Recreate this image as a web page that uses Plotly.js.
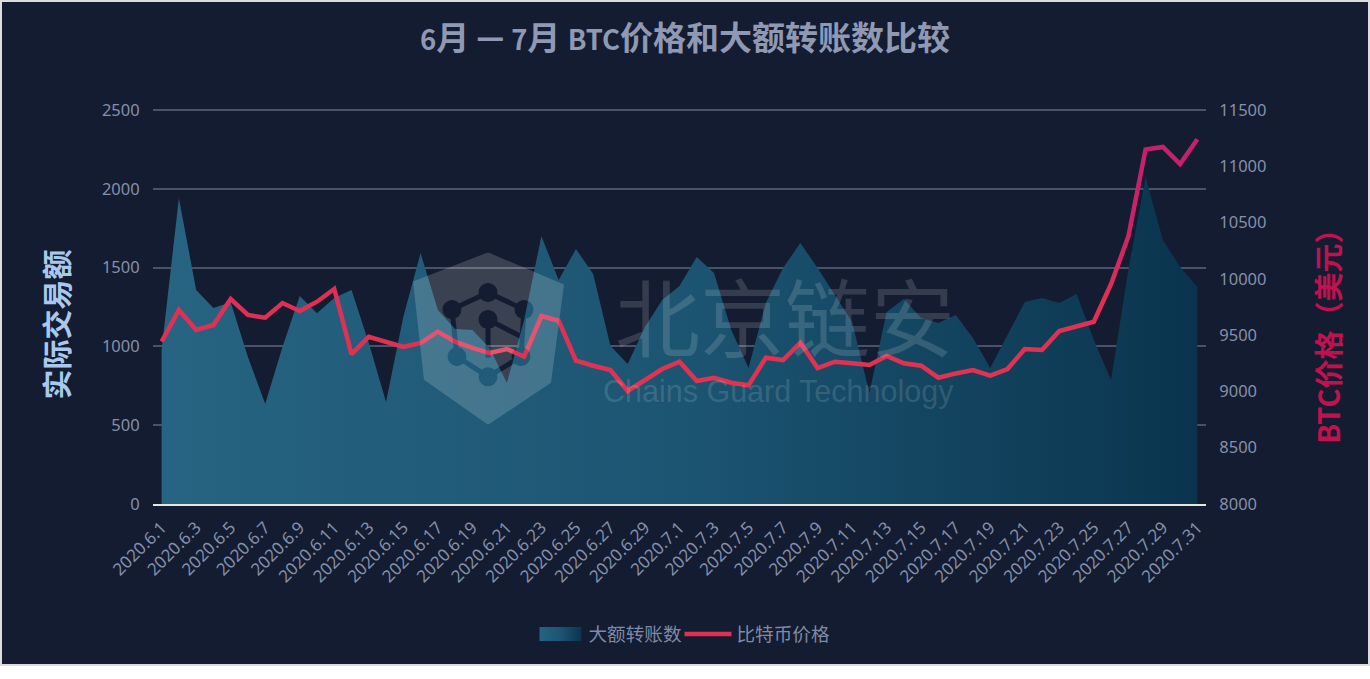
<!DOCTYPE html>
<html><head><meta charset="utf-8">
<script src="https://cdn.plot.ly/plotly-3.0.1.min.js"></script>
<style>
html,body{margin:0;padding:0;background:#fff;}
#wrap{position:relative;width:1370px;height:666px;}
#chart{position:absolute;left:0;top:0;width:1370px;height:666px;}
#frame{position:absolute;left:0;top:0;width:1370px;height:666px;box-sizing:border-box;border:2px solid #dcdcdc;pointer-events:none;}
</style></head><body>
<div id="wrap"><div id="chart"></div><div id="frame"></div></div>
<script>
const dates = ["2020.6.1","2020.6.2","2020.6.3","2020.6.4","2020.6.5","2020.6.6","2020.6.7","2020.6.8","2020.6.9","2020.6.10","2020.6.11","2020.6.12","2020.6.13","2020.6.14","2020.6.15","2020.6.16","2020.6.17","2020.6.18","2020.6.19","2020.6.20","2020.6.21","2020.6.22","2020.6.23","2020.6.24","2020.6.25","2020.6.26","2020.6.27","2020.6.28","2020.6.29","2020.6.30","2020.7.1","2020.7.2","2020.7.3","2020.7.4","2020.7.5","2020.7.6","2020.7.7","2020.7.8","2020.7.9","2020.7.10","2020.7.11","2020.7.12","2020.7.13","2020.7.14","2020.7.15","2020.7.16","2020.7.17","2020.7.18","2020.7.19","2020.7.20","2020.7.21","2020.7.22","2020.7.23","2020.7.24","2020.7.25","2020.7.26","2020.7.27","2020.7.28","2020.7.29","2020.7.30","2020.7.31"];
const transfers = [980,1940,1358,1243,1280,933,634,996,1320,1211,1307,1358,1021,647,1187,1592,1231,1110,1104,990,768,1167,1700,1421,1618,1459,1002,888,1123,1294,1383,1567,1466,1104,863,1275,1497,1656,1497,1326,1155,704,1218,1301,1180,1148,1199,1053,863,1072,1282,1307,1275,1332,1040,787,1485,2075,1675,1504,1377];
const btcPrice = [9442,9723,9546,9590,9821,9679,9655,9785,9714,9797,9910,9332,9486,9442,9395,9430,9531,9442,9386,9341,9377,9309,9670,9628,9273,9228,9190,9004,9101,9199,9264,9092,9122,9077,9054,9300,9279,9433,9208,9264,9250,9235,9315,9250,9228,9122,9160,9190,9140,9199,9377,9368,9537,9575,9619,9954,10375,11150,11172,11020,11240];

const PX = {l:153, r:1206, t:110, b:504};
const px2x = p => (p - PX.l) / (PX.r - PX.l);
const px2y = p => (PX.b - p) / (PX.b - PX.t);
const cjk = '"Noto Sans CJK SC","Noto Sans",sans-serif';
const tickFont = {family:'"Noto Sans","Noto Sans CJK SC",sans-serif', size:16.5, color:'#8590aa'};
const lat = t => '<span style="font-size:27.5px">'+t+'</span>';

const logoSvg = `<svg xmlns="http://www.w3.org/2000/svg" width="152" height="172" viewBox="0 0 152 172">
<mask id="m"><rect width="152" height="172" fill="white"/>
<g fill="black" stroke="black"><g fill="none" stroke-width="5"><path d="M39 57L75 40L111 57L108 104L75 124L44 104Z"/><path d="M75 67L110 85M75 67L75 105"/></g>
<circle cx="39" cy="57" r="9"/><circle cx="75" cy="40" r="9"/><circle cx="111" cy="57" r="9"/><circle cx="75" cy="67" r="9"/><circle cx="44" cy="104" r="9"/><circle cx="75" cy="124" r="9"/><circle cx="108" cy="104" r="9"/></g></mask>
<path d="M75 0L151 32L138 130L75 172L11 127L0 29Z" fill="white" fill-opacity="0.17" mask="url(#m)"/></svg>`;

const traces = [
 {name:'大额转账数', x:dates, y:transfers, type:'scatter', mode:'lines', yaxis:'y',
  line:{width:0,color:'#1f5f80'}, fill:'tozeroy',
  fillgradient:{type:'horizontal', colorscale:[[0,'#266482'],[0.5,'#1c5572'],[1,'#0a344e']]}},
 {name:'比特币价格', x:dates, y:btcPrice, type:'scatter', mode:'lines', yaxis:'y2',
  line:{width:4.5,color:'#e03052',shape:'linear'}}
];
const layout = {
 width:1370, height:666, autosize:false,
 paper_bgcolor:'#131c30', plot_bgcolor:'#131c30',
 margin:{l:PX.l, r:1370-PX.r, t:PX.t-1, b:666-PX.b, pad:0},
 font:{family:cjk},
 title:{text:'<b>'+lat('6')+'月 <span style="font-size:27px">一</span> '+lat('7')+'月 '+lat('BTC')+'价格和大额转账数比较</b>', font:{family:cjk,size:33,color:'#8f99b3'}, x:0.5, xanchor:'center', y:0.943, yanchor:'middle'},
 xaxis:{type:'category', range:[-0.5,60.5], dtick:2, tick0:0, tickangle:-45, tickfont:{...tickFont,size:17},
  showgrid:false, zeroline:false, showline:true, linecolor:'#e4e4e4', linewidth:2, ticks:'outside', ticklen:5, tickcolor:'rgba(0,0,0,0)'},
 yaxis:{range:[0,2506.4], tickvals:[0,500,1000,1500,2000,2500], tickfont:tickFont, gridcolor:'#4b5267', gridwidth:2, zeroline:false, showline:false,
  ticks:'outside', ticklen:9, tickcolor:'rgba(0,0,0,0)'},
 yaxis2:{range:[8000,11508.9], tickvals:[8000,8500,9000,9500,10000,10500,11000,11500], tickformat:'d', overlaying:'y', side:'right', showgrid:false, zeroline:false, showline:false, tickfont:tickFont,
  ticks:'outside', ticklen:9, tickcolor:'rgba(0,0,0,0)'},
 legend:{orientation:'h', x:0.5, xanchor:'center', y:px2y(634), yanchor:'middle', font:{family:cjk,size:18.6,color:'#7f8ba6'}, itemwidth:47, entrywidth:83, entrywidthmode:'pixels', tracegroupgap:0, bgcolor:'rgba(0,0,0,0)'},
 showlegend:true,
 images:[{source:'data:image/svg+xml;charset=utf-8,'+encodeURIComponent(logoSvg), xref:'paper', yref:'paper',
  x:px2x(413), y:px2y(253), sizex:px2x(565)-px2x(413), sizey:172/394, xanchor:'left', yanchor:'top', sizing:'stretch', layer:'above', opacity:1}],
 annotations:[
  {text:'<b>实际交易额</b>', xref:'paper', yref:'paper', x:px2x(55), y:px2y(325), xanchor:'center', yanchor:'middle', textangle:-90, showarrow:false, font:{family:cjk,size:30,color:'#a9c8ee'}},
  {text:'<b>BTC价格（美元）</b>', xref:'paper', yref:'paper', x:px2x(1327), y:px2y(330), xanchor:'center', yanchor:'middle', textangle:-90, showarrow:false, font:{family:cjk,size:29,color:'#c2114f'}},
  {text:'北京链安', xref:'paper', yref:'paper', x:px2x(785), y:px2y(314), xanchor:'center', yanchor:'middle', showarrow:false, font:{family:cjk,size:85,color:'rgba(255,255,255,0.14)'}},
  {text:'Chains Guard Technology', xref:'paper', yref:'paper', x:px2x(778), y:px2y(392), xanchor:'center', yanchor:'middle', showarrow:false, font:{family:'"Liberation Sans",Arial,sans-serif',size:30.5,color:'rgba(255,255,255,0.14)'}}
 ]
};
function polish(){
 const svg = document.querySelector('#chart .main-svg');
 const NS = 'http://www.w3.org/2000/svg';
 let g = document.getElementById('btcGrad');
 if(!g){
  g = document.createElementNS(NS,'linearGradient');
  g.id='btcGrad'; g.setAttribute('x1','0'); g.setAttribute('y1','0'); g.setAttribute('x2','0'); g.setAttribute('y2','1');
  [[0,'#c4206f'],[0.35,'#cc2366'],[0.62,'#df2f55'],[1,'#e23350']].forEach(([o,c])=>{
   const s=document.createElementNS(NS,'stop'); s.setAttribute('offset',o); s.setAttribute('stop-color',c); g.appendChild(s);
  });
  svg.querySelector('defs').appendChild(g);
 }
 const lines = document.querySelectorAll('#chart .scatterlayer .trace .js-line');
 const l = lines[lines.length-1];
 if(l){ l.style.stroke='url(#btcGrad)'; l.style.strokeLinejoin='miter'; }
 const sw = document.querySelector('#chart .legend .legendfill path');
 if(sw){ sw.setAttribute('d','M5,-7h42v14h-42z'); }
 const lt = document.querySelector('#chart .legend .legendtext');
 if(lt){ lt.setAttribute('x', parseFloat(lt.getAttribute('x'))-3); }
 document.querySelectorAll('#chart .legend [clip-path], #chart .legend .legendtext').forEach(e=>e.removeAttribute('clip-path'));
 document.querySelectorAll('#chart .legend .traces').forEach(e=>{e.style.clipPath='none';});
 const leg = document.querySelector('#chart .legend');
 if(leg){ leg.querySelectorAll('*').forEach(e=>{ if(e.style && e.style.clipPath) e.style.clipPath='none'; }); }
}
Plotly.newPlot('chart', traces, layout, {displayModeBar:false, staticPlot:true}).then(polish);
</script></body></html>
